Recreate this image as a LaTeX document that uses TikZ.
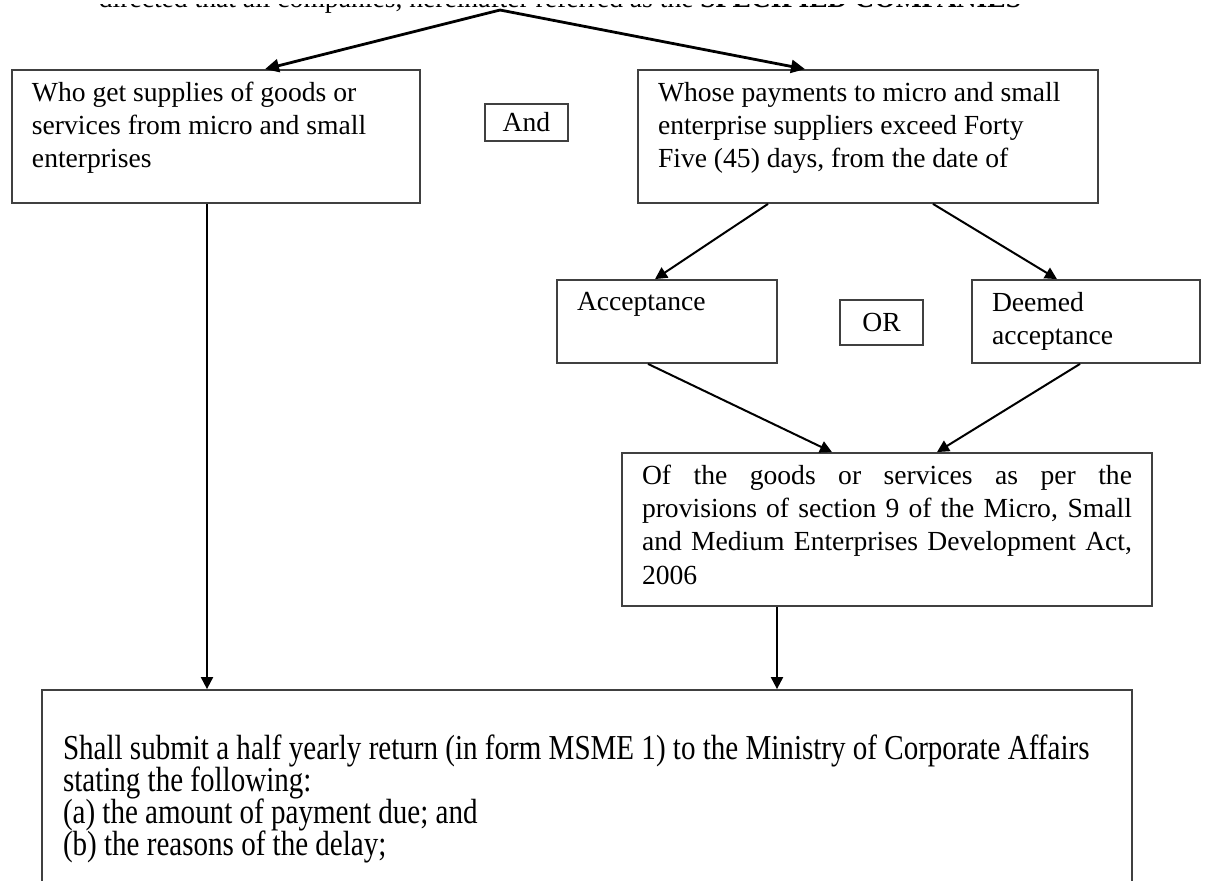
\documentclass[tikz,border=0pt]{standalone}
\usepackage{fontspec}
\setmainfont{Liberation Serif}
\newfontfamily\narrowserif{Liberation Serif}[FakeStretch=0.83]
\usetikzlibrary{arrows.meta,positioning}

\newcommand{\cardtxt}[3]{\parbox[c][#2][t]{#1}{#3}}

\begin{document}
\begin{tikzpicture}
[x=0.5pt, y=-0.5pt,
 card/.style={draw=black!75, line width=0.9pt, inner xsep=10pt, inner ysep=6pt, font=\fontsize{13.8}{16.6}\selectfont},
 tag/.style={draw=black!75, line width=0.9pt, inner sep=0pt, minimum width=41.5pt, font=\fontsize{13.8}{16.6}\selectfont},
 flow/.style={-{Triangle[length=6pt,width=6pt]}, line width=1pt},
 fork/.style={-{Triangle[length=7pt,width=6.5pt]}, line width=1.4pt}]

\useasboundingbox (0,0) rectangle (1206,880);
\clip (0,0) rectangle (1206,880);

% heading line, cut by the page edge
\begin{scope}
\clip (0,4) rectangle (1206,20);
\node[anchor=base, font=\fontsize{13.8}{16.6}\selectfont] (head) at (560,7.5) {directed that all companies, hereinafter referred as the \textbf{SPECIFIED COMPANIES}};
\end{scope}
\coordinate (apex) at (500,10);

\node[card] (who) at (216,136.5) {\cardtxt{184pt}{54.5pt}{Who get supplies of goods or\\ services from micro and small\\ enterprises}};
\node[tag, minimum height=18.5pt] (andbox) at (526.5,122.5) {And};
\node[card] (whose) at (868,136.5) {\cardtxt{210pt}{54.5pt}{Whose payments to micro and small\\ enterprise suppliers exceed Forty\\ Five (45) days, from the date of}};

\node[card] (accept) at (667,321.5) {\cardtxt{90pt}{29.5pt}{Acceptance}};
\node[tag, minimum height=22.5pt] (orbox) at (881.5,322.5) {OR};
\node[card] (deemed) at (1086,321.5) {\cardtxt{94pt}{29.5pt}{Deemed\\ acceptance}};

\node[card] (goods) at (887,529.5) {\cardtxt{245pt}{64.5pt}{Of the goods or services as per the\linebreak provisions of section 9 of the Micro, Small\linebreak and Medium Enterprises Development Act,\linebreak 2006}};

\node[card, inner xsep=10.5pt, font=\narrowserif\fontsize{17.5}{15.9}\selectfont] (shall) at (587,799) {\parbox[c][97pt][c]{524pt}{\lineskip=0pt\lineskiplimit=-10pt
Shall submit a half yearly return (in form MSME 1) to the Ministry of Corporate Affairs\\ stating the following:\\ (a) the amount of payment due; and\\ (b) the reasons of the delay;}};

% connectors
\draw[fork] (apex) -- (265,0 |- who.north);
\draw[fork] (apex) -- (805,0 |- whose.north);
\draw[flow] (207,0 |- who.south) -- (207,0 |- shall.north);
\draw[flow] (768,0 |- whose.south) -- (655,0 |- accept.north);
\draw[flow] (933,0 |- whose.south) -- (1057,0 |- deemed.north);
\draw[flow] (648,0 |- accept.south) -- (832,0 |- goods.north);
\draw[flow] (1080,0 |- deemed.south) -- (937,0 |- goods.north);
\draw[flow] (777,0 |- goods.south) -- (777,0 |- shall.north);
\end{tikzpicture}
\end{document}
